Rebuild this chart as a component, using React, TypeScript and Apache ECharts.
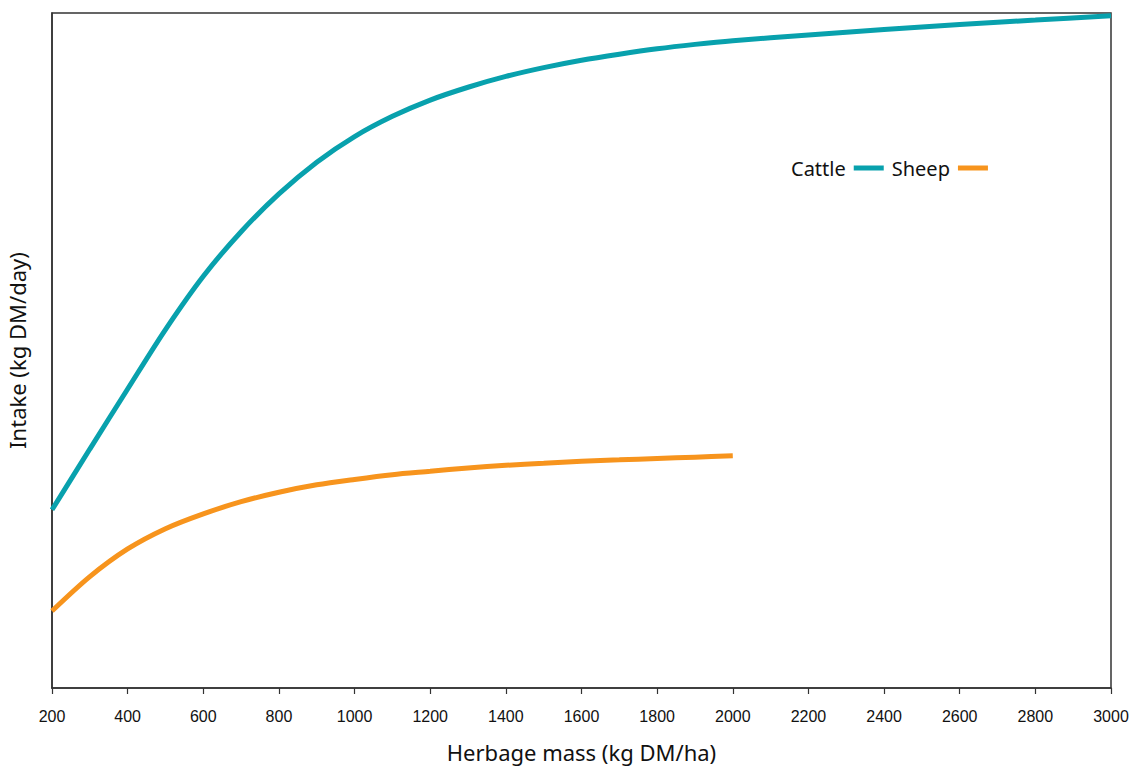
import React, { useEffect, useRef } from "react";
import * as echarts from "echarts";

const cattleMass = [200, 300, 400, 500, 600, 700, 800, 900, 1000, 1100, 1200, 1300, 1400, 1500, 1600, 1700, 1800, 1900, 2000, 2200, 2400, 2600, 2800, 3000];
const cattleIntake = [26.4, 35.4, 44.3, 53.1, 61.0, 67.6, 73.2, 77.9, 81.7, 84.7, 87.1, 89.0, 90.6, 91.9, 93.0, 93.9, 94.7, 95.35, 95.9, 96.75, 97.55, 98.3, 98.95, 99.6];
const sheepMass = [200, 300, 400, 500, 600, 700, 800, 900, 1000, 1100, 1200, 1300, 1400, 1500, 1600, 1700, 1800, 1900, 2000];
const sheepIntake = [11.4, 16.5, 20.6, 23.6, 25.8, 27.6, 29.0, 30.1, 30.9, 31.6, 32.1, 32.6, 33.0, 33.3, 33.6, 33.8, 34.0, 34.2, 34.4];
const seriesNames = ["Cattle", "Sheep"];
const seriesColors = ["#08a1ad", "#f7941d"];

export default function App() {
  const ref = useRef<HTMLDivElement>(null);
  useEffect(() => {
    if (!ref.current) return;
    const chart = echarts.init(ref.current, null, { renderer: "svg" });
    const pair = (xs: number[], ys: number[]) => xs.map((x, i) => [x, ys[i]]);
    chart.setOption({
      animation: false,
      backgroundColor: "#ffffff",
      grid: {
        left: 52,
        top: 13,
        right: 28,
        bottom: 81,
        show: true,
        borderColor: "#333",
        borderWidth: 1.5,
        containLabel: false,
        outerBoundsMode: "none",
      },
      legend: {
        data: seriesNames,
        left: 786,
        top: 153,
        align: "right",
        icon: "rect",
        itemWidth: 30,
        itemHeight: 5,
        itemGap: 8,
        textStyle: { fontFamily: "Noto Sans", fontSize: 20, color: "#111", padding: [0, 3, 0, 2] },
      },
      xAxis: {
        type: "value",
        min: 200,
        max: 3000,
        interval: 200,
        name: "Herbage mass (kg DM/ha)",
        nameLocation: "middle",
        nameGap: 53,
        nameTextStyle: { fontFamily: "Noto Sans", fontSize: 22, color: "#111" },
        axisLine: { show: true, lineStyle: { color: "#333", width: 1.5 } },
        axisTick: { show: true, length: 6, lineStyle: { color: "#333", width: 1.2 } },
        axisLabel: {
          margin: 20,
          fontFamily: "Liberation Sans",
          fontSize: 16,
          color: "#111",
          formatter: (v: number) => String(v),
        },
        splitLine: { show: false },
      },
      yAxis: {
        type: "value",
        min: 0,
        max: 100,
        name: "Intake (kg DM/day)",
        nameLocation: "middle",
        nameGap: 24,
        nameTextStyle: { fontFamily: "Noto Sans", fontSize: 22, color: "#111" },
        axisLine: { show: true, lineStyle: { color: "#333", width: 1.5 } },
        axisTick: { show: false },
        axisLabel: { show: false },
        splitLine: { show: false },
      },
      series: [
        {
          name: seriesNames[0],
          type: "line",
          data: pair(cattleMass, cattleIntake),
          smooth: 0.3,
          showSymbol: false,
          lineStyle: { color: seriesColors[0], width: 5 },
          itemStyle: { color: seriesColors[0] },
        },
        {
          name: seriesNames[1],
          type: "line",
          data: pair(sheepMass, sheepIntake),
          smooth: 0.3,
          showSymbol: false,
          lineStyle: { color: seriesColors[1], width: 5 },
          itemStyle: { color: seriesColors[1] },
        },
      ],
    });
    return () => chart.dispose();
  }, []);
  return <div ref={ref} style={{ position: "fixed", left: 0, top: 0, width: 1139, height: 769, background: "#fff" }} />;
}
